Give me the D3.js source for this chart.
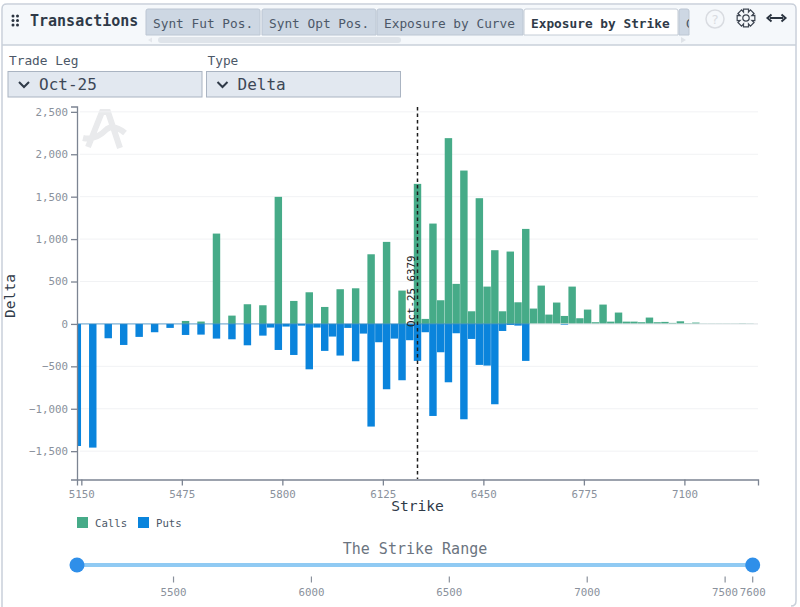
<!DOCTYPE html>
<html>
<head>
<meta charset="utf-8">
<script src="https://cdn.jsdelivr.net/npm/d3@7"></script>
<style>
  html, body { margin: 0; padding: 0; background: #fff; }
  svg { display: block; }
  text { font-family: "DejaVu Sans Mono", monospace; }
</style>
</head>
<body>
<svg id="chart" width="800" height="607"></svg>
<script>
// chart data
var strikes = [5125,5175,5225,5275,5325,5375,5425,5475,5525,5575,5625,5675,5725,5750,5775,5800,5825,5850,5875,5900,5925,5950,5975,6000,6025,6050,6075,6100,6125,6150,6175,6200,6225,6250,6275,6300,6325,6350,6375,6400,6425,6450,6475,6500,6525,6550,6575,6600,6625,6650,6675,6700,6725,6750,6775,6800,6825,6850,6875,6900,6925,6950,6975,7000,7025,7050,7075,7100,7125,7150,7175,7200,7225,7250,7275,7300];
var calls = [0,0,0,0,0,0,0,35,28,1065,98,232,220,0,1498,0,271,0,373,0,200,0,409,0,420,0,821,0,967,0,393,0,1651,59,1183,279,2190,472,1808,149,1482,440,869,149,853,255,1120,181,452,110,252,94,440,67,169,20,228,27,134,27,27,20,75,20,24,12,31,8,16,3,3,3,3,3,5,3];
var puts = [-1439,-1458,-169,-248,-153,-98,-47,-130,-126,-173,-181,-252,-138,-43,-307,-31,-366,-20,-535,-43,-318,-149,-373,-47,-440,-114,-1210,-216,-770,-173,-664,-192,-436,-98,-1085,-334,-688,-110,-1124,-177,-483,-491,-947,-83,-12,-20,-436,0,0,0,0,-12,0,0,0,0,0,0,0,0,0,0,0,0,0,0,0,0,0,0,0,0,0,0,0,0];
var xTicks = [5150,5475,5800,6125,6450,6775,7100];
var yTicks = [-1500,-1000,-500,0,500,1000,1500,2000,2500];
var sliderTicks = [5500,6000,6500,7000,7500,7600];
var tabNames = ['Synt Fut Pos.','Synt Opt Pos.','Exposure by Curve','Exposure by Strike','G'];
var markerLabel = 'Oct-25 6379';
var markerPos = 6237; // the line sits here on the axis, not at the strike it is labelled with

var callColor = '#46ab88';
var putColor = '#0a84dc';
var tickColor = '#8a919c';
var axisColor = '#7c8492';

var svg = d3.select('#chart');

// -------------------------- PANEL AND HEADER ------------------------

svg.append('path')
	.attr('d', 'M2,607 V9 Q2,4 7,4 H791 Q796,4 796,9 V601 Q796,606 791,606')
	.attr('fill', '#fff').attr('stroke', '#c9d0da').attr('stroke-width', 1.5);
svg.append('path')
	.attr('d', 'M3,45 V9 Q3,5 7,5 H791 Q795,5 795,9 V45 Z')
	.attr('fill', '#f5f8fb');
svg.append('line').attr('x1', 2).attr('x2', 796).attr('y1', 45).attr('y2', 45)
	.attr('stroke', '#c9d0da').attr('stroke-width', 1.5);

// drag handle dots
[12, 16.5, 21].forEach(function(cx){
	[16, 20.5, 25].forEach(function(cy){
		if(cx == 21) return;
		svg.append('circle').attr('cx', cx + 1).attr('cy', cy).attr('r', 1.5).attr('fill', '#2b3440');
	});
});

svg.append('text').attr('x', 30).attr('y', 26)
	.attr('font-size', 15).attr('font-weight', 'bold').attr('fill', '#2f3a48')
	.text('Transactions');

var tabs = [[146,260],[262,376],[377,523],[524,678],[679,689]];
tabs.forEach(function(t, i){
	var active = i == 3;
	svg.append('path')
		.attr('d', 'M' + t[0] + ',35 V11 Q' + t[0] + ',9 ' + (t[0] + 2) + ',9 H' + (t[1] - 2) + ' Q' + t[1] + ',9 ' + t[1] + ',11 V35 Z')
		.attr('fill', active ? '#fff' : '#cdd7e3')
		.attr('stroke', active ? '#c4ccd6' : '#bcc6d3');
});
var clip = svg.append('clipPath').attr('id', 'tabclip');
clip.append('rect').attr('x', 146).attr('y', 8).attr('width', 543).attr('height', 28);
var tabGroup = svg.append('g').attr('clip-path', 'url(#tabclip)');
tabNames.forEach(function(name, i){
	tabGroup.append('text').attr('x', tabs[i][0] + 7).attr('y', 27.5)
		.attr('font-size', 12.8)
		.attr('fill', i == 3 ? '#2f3a48' : '#4c5868')
		.attr('font-weight', i == 3 ? 'bold' : 'normal')
		.text(name);
});

// tab scrollbar
svg.append('rect').attr('x', 158).attr('y', 37).attr('width', 243).attr('height', 6).attr('rx', 3).attr('fill', '#dfe4ea');
svg.append('path').attr('d', 'M152,37.5 L148,40 L152,42.5 Z').attr('fill', '#e4e7ec');
svg.append('path').attr('d', 'M681,37 L686,40 L681,43 Z').attr('fill', '#dfe3e8');

// help, settings and expand icons
svg.append('circle').attr('cx', 715).attr('cy', 19).attr('r', 9).attr('fill', 'none').attr('stroke', '#d9dce1').attr('stroke-width', 1.5);
svg.append('text').attr('x', 715).attr('y', 24).attr('text-anchor', 'middle').attr('font-size', 13).attr('fill', '#d9dce1').text('?');
var gear = svg.append('g').attr('transform', 'translate(746,18)').attr('fill', 'none').attr('stroke', '#3c4450').attr('stroke-width', 1.2);
gear.append('circle').attr('r', 3.2);
gear.append('path').attr('d', d3.range(0, 8).map(function(i){
	var a = i * Math.PI / 4, b = a + Math.PI / 8, c = a + Math.PI / 4 - Math.PI / 8;
	function p(r, t){ return (r * Math.cos(t)).toFixed(2) + ',' + (r * Math.sin(t)).toFixed(2); }
	return (i ? 'L' : 'M') + p(9.2, a - 0.28) + ' L' + p(9.2, a + 0.28) + ' L' + p(6.4, b) + ' L' + p(6.4, c + Math.PI / 4 - Math.PI / 4);
}).join(' ') + ' Z');
svg.append('path').attr('d', 'M770,18 H783').attr('stroke', '#2b3440').attr('stroke-width', 2);
svg.append('path').attr('d', 'M771.5,14.5 L767.5,18 L771.5,21.5 M781.5,14.5 L785.5,18 L781.5,21.5').attr('fill', 'none').attr('stroke', '#2b3440').attr('stroke-width', 2);

// dropdowns
var dropdowns = [
	{ label: 'Trade Leg', value: 'Oct-25', x: 8, w: 194 },
	{ label: 'Type', value: 'Delta', x: 206.5, w: 194 }
];
dropdowns.forEach(function(d){
	svg.append('text').attr('x', d.x + 1).attr('y', 65).attr('font-size', 12.8).attr('fill', '#4c5868').text(d.label);
	svg.append('rect').attr('x', d.x).attr('y', 71.5).attr('width', d.w).attr('height', 25.5)
		.attr('fill', '#e2e8f0').attr('stroke', '#aab4c2');
	svg.append('path').attr('d', 'M' + (d.x + 11) + ',82 l5,5 l5,-5').attr('fill', 'none').attr('stroke', '#2f3a48').attr('stroke-width', 2);
	svg.append('text').attr('x', d.x + 31).attr('y', 90).attr('font-size', 16).attr('fill', '#3c4756').text(d.value);
});

// -------------------------- MAIN CHART ------------------------

var x = d3.scaleLinear().domain([5136, 7338]).range([77, 758]);
var y = d3.scaleLinear().domain([-1834, 2563]).range([479.5, 106.5]);
var bandWidth = x(5175) - x(5150);

// watermark logo
svg.append('path')
	.attr('d', 'M88,147 L102,112 L108,112 L120,148 M83,138 Q95,141 107,129 Q114,124 125,133')
	.attr('fill', 'none').attr('stroke', '#e9eaec').attr('stroke-width', 6);

// grid
svg.append('g').selectAll('line')
	.data(yTicks).enter()
	.append('line')
		.attr('x1', 80).attr('x2', 758)
		.attr('y1', function(d){ return y(d); })
		.attr('y2', function(d){ return y(d); })
		.attr('stroke', '#f1f2f4');

var barClip = svg.append('clipPath').attr('id', 'plot');
barClip.append('rect').attr('x', 77).attr('y', 106).attr('width', 681).attr('height', 374);
var plot = svg.append('g').attr('clip-path', 'url(#plot)');

function drawBars(values, color){
	plot.append('g').selectAll('rect')
		.data(strikes).enter()
		.append('rect')
			.attr('x', function(d){ return x(d); })
			.attr('width', bandWidth - 0.3)
			.attr('y', function(d, i){ return y(Math.max(values[i], 0)); })
			.attr('height', function(d, i){ return Math.abs(y(values[i]) - y(0)); })
			.attr('fill', color);
}
drawBars(calls, callColor);
drawBars(puts, putColor);

// zero line
svg.append('line')
	.attr('x1', 77).attr('x2', x(6600)).attr('y1', y(0)).attr('y2', y(0))
	.attr('stroke', '#3f8fc4').attr('stroke-width', 1).attr('opacity', 0.8);
svg.append('line')
	.attr('x1', x(6600)).attr('x2', 758).attr('y1', y(0)).attr('y2', y(0))
	.attr('stroke', '#e3e6ea');

// axes
var yAxis = d3.axisLeft(y)
	.tickValues(yTicks)
	.tickFormat(d3.format(','))
	.tickSize(6)
	.tickSizeOuter(6);
var gy = svg.append('g').attr('transform', 'translate(77,0)').call(yAxis);

var xAxis = d3.axisBottom(x)
	.tickValues(xTicks)
	.tickFormat(d3.format('d'))
	.tickSize(6)
	.tickSizeOuter(6);
var gx = svg.append('g').attr('transform', 'translate(0,479.5)').call(xAxis);

[gx, gy].forEach(function(g){
	g.selectAll('path, line').attr('stroke', axisColor).attr('stroke-width', 1.3);
	g.selectAll('text').attr('fill', tickColor).attr('font-size', 10.8).attr('font-family', '"DejaVu Sans Mono", monospace');
});
gx.selectAll('text').attr('dy', '0.9em');

svg.append('text').attr('x', 417.5).attr('y', 511).attr('text-anchor', 'middle')
	.attr('font-size', 14.6).attr('fill', '#2f3a48').text('Strike');
svg.append('text').attr('transform', 'translate(15,296) rotate(-90)').attr('text-anchor', 'middle')
	.attr('font-size', 14.6).attr('fill', '#2f3a48').text('Delta');

// marker for the trade leg
svg.append('line')
	.attr('x1', x(markerPos)).attr('x2', x(markerPos)).attr('y1', 107).attr('y2', 479)
	.attr('stroke', '#1c1c1c').attr('stroke-width', 1.5).attr('stroke-dasharray', '3.5,3');
svg.append('text').attr('transform', 'translate(' + (x(markerPos) - 3) + ',327) rotate(-90)')
	.attr('font-size', 10.8).attr('fill', '#222').text(markerLabel);

// legend
[{ name: 'Calls', color: callColor, x: 77 }, { name: 'Puts', color: putColor, x: 138 }].forEach(function(d){
	svg.append('rect').attr('x', d.x).attr('y', 517).attr('width', 11).attr('height', 11).attr('fill', d.color);
	svg.append('text').attr('x', d.x + 18).attr('y', 526.5).attr('font-size', 10.7).attr('fill', '#4c5868').text(d.name);
});

// -------------------------- STRIKE RANGE SLIDER ------------------------

svg.append('text').attr('x', 415).attr('y', 554).attr('text-anchor', 'middle')
	.attr('font-size', 15).attr('fill', '#6b7480').text('The Strike Range');

var sliderX = d3.scaleLinear().domain([5150, 7600]).range([77, 752.7]);
var sliderY = 565;

svg.append('line')
	.attr('x1', sliderX(5150)).attr('x2', sliderX(7600)).attr('y1', sliderY).attr('y2', sliderY)
	.attr('stroke', '#90caf3').attr('stroke-width', 4);

svg.append('g').selectAll('line')
	.data(sliderTicks).enter()
	.append('line')
		.attr('x1', function(d){ return sliderX(d); })
		.attr('x2', function(d){ return sliderX(d); })
		.attr('y1', 576.5).attr('y2', 582.5)
		.attr('stroke', tickColor).attr('stroke-width', 1.2);

svg.append('g').selectAll('text')
	.data(sliderTicks).enter()
	.append('text')
		.attr('x', function(d){ return sliderX(d); })
		.attr('y', 596)
		.attr('text-anchor', 'middle')
		.attr('font-size', 10.8)
		.attr('fill', tickColor)
		.text(function(d){ return d; });

svg.append('g').selectAll('circle')
	.data([5150, 7600]).enter()
	.append('circle')
		.attr('cx', function(d){ return sliderX(d); })
		.attr('cy', sliderY)
		.attr('r', 7.5)
		.attr('fill', '#2f8fe9');
</script>
</body>
</html>
